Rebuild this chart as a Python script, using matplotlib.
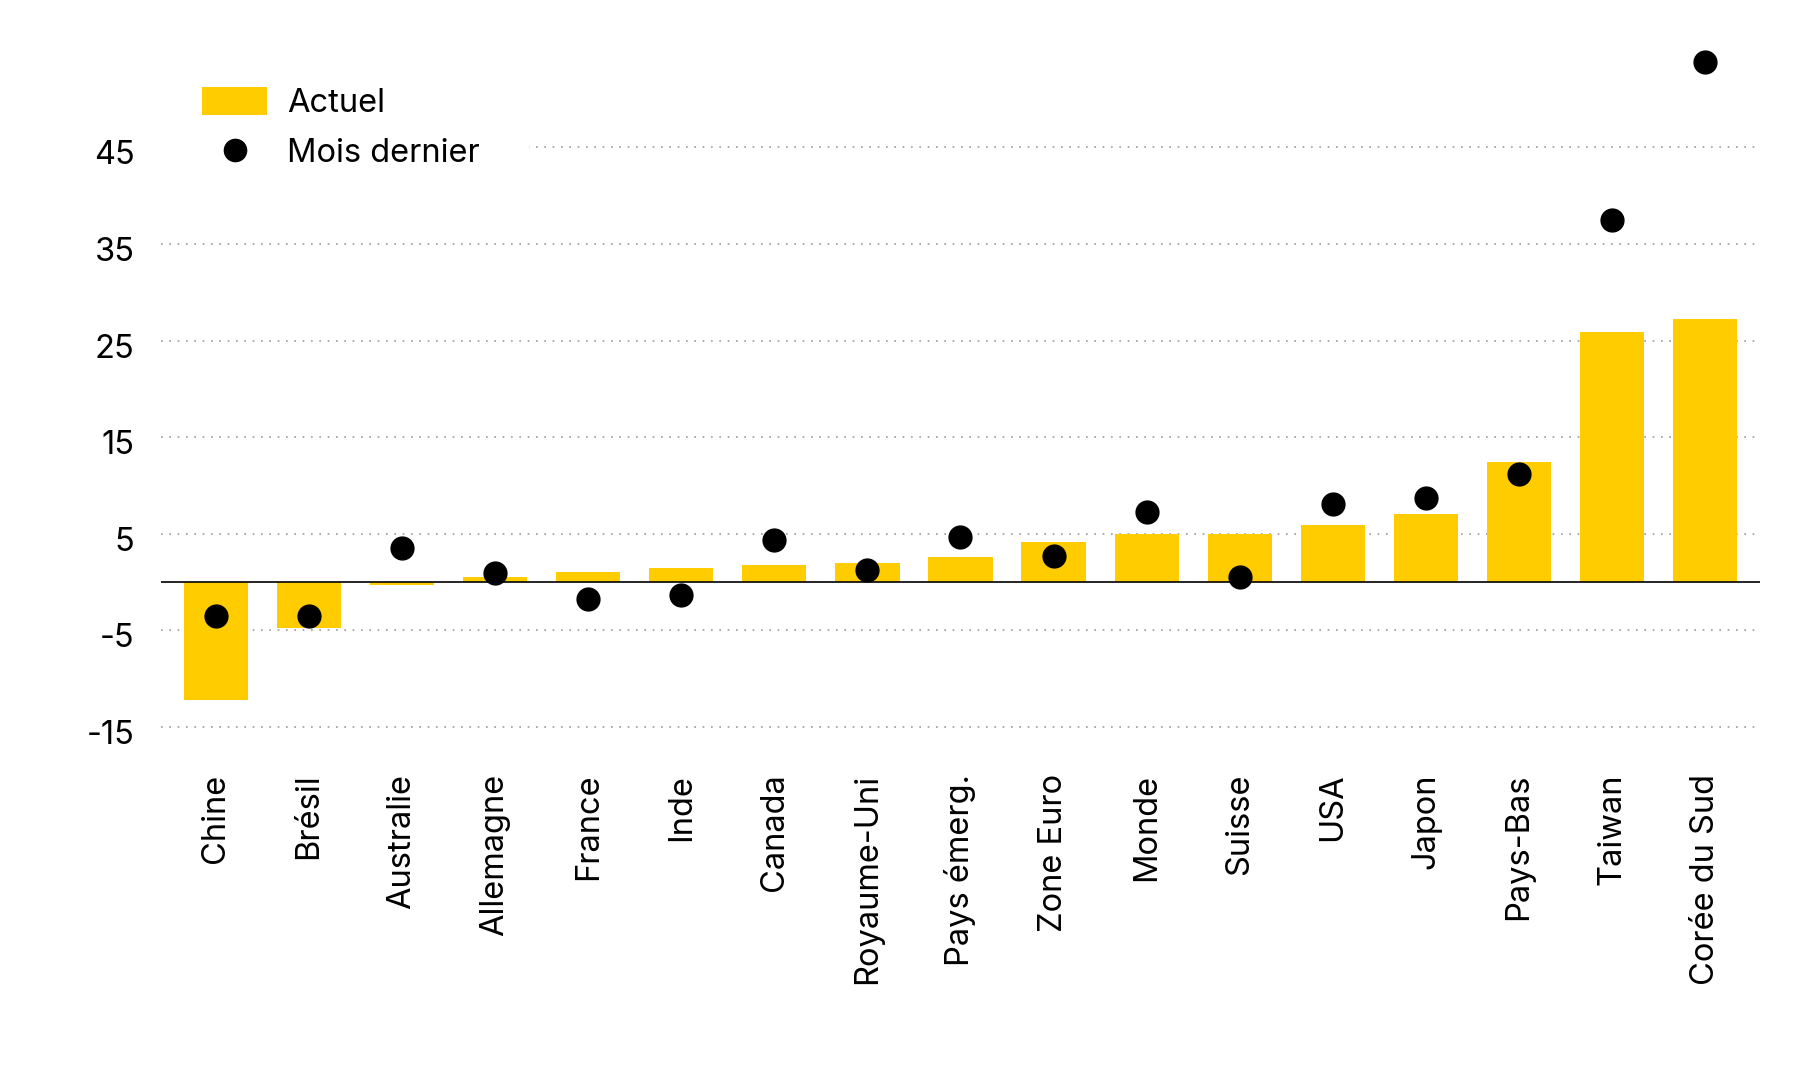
import numpy as np
import matplotlib
matplotlib.use('Agg')
import matplotlib.pyplot as plt
import matplotlib.transforms as mtransforms
from matplotlib.patches import Patch
from matplotlib.lines import Line2D

plt.rcParams['font.family'] = ['Inter', 'DejaVu Sans']

pays = ['Chine', 'Brésil', 'Australie', 'Allemagne', 'France', 'Inde', 'Canada',
        'Royaume-Uni', 'Pays émerg.', 'Zone Euro', 'Monde', 'Suisse', 'USA',
        'Japon', 'Pays-Bas', 'Taiwan', 'Corée du Sud']
actuel = [-12.3, -4.8, -0.3, 0.45, 1.0, 1.45, 1.7, 1.95, 2.55, 4.1, 4.95, 5.0,
          5.9, 7.0, 12.4, 25.9, 27.2]
mois_dernier = [-3.5, -3.55, 3.45, 0.95, -1.8, -1.4, 4.3, 1.2, 4.6, 2.7, 7.2,
                0.5, 8.1, 8.7, 11.15, 37.45, 53.85]
yticks = [45, 35, 25, 15, 5, -5, -15]

jaune = '#FFCC00'

fig = plt.figure(figsize=(18, 10.8), dpi=100)
ax = fig.add_axes([0.0894, 0.3094, 0.9778 - 0.0894, 0.9796 - 0.3094])

x = np.arange(len(pays))
ax.bar(x, actuel, width=0.69, color=jaune, zorder=2)
ax.scatter(x, mois_dernier, s=270, color='black', zorder=3)
ax.axhline(0, color='black', lw=1.2, zorder=2.5)

ax.set_xlim(-0.59, len(pays) - 1 + 0.59)
ax.set_ylim(-17, 58)
ax.set_yticks(yticks)
ax.set_yticklabels([str(v) for v in yticks])
ax.set_xticks(x)
ax.set_xticklabels(pays, rotation=90, va='top', ha='center')

ax.tick_params(axis='both', length=0, labelsize=23.5, colors='black')
ax.tick_params(axis='y', pad=19)
ax.tick_params(axis='x', pad=20)
for s in ax.spines.values():
    s.set_visible(False)
ax.grid(axis='y', linestyle=(0, (1, 4)), color='#999999', lw=1.2, zorder=1)
ax.grid(axis='x', visible=False)

# y labels sit a little under their gridline in the original
shift = mtransforms.ScaledTranslation(0, -5 / 100, fig.dpi_scale_trans)
for lab in ax.get_yticklabels():
    lab.set_transform(lab.get_transform() + shift)

handles = [Patch(facecolor=jaune, edgecolor='none'),
           Line2D([], [], marker='o', color='black', linestyle='none', markersize=16)]
leg = fig.legend(handles, ['Actuel', 'Mois dernier'], loc='upper left',
                 bbox_to_anchor=(0.085, 0.965), fontsize=23.5, frameon=True,
                 framealpha=1, edgecolor='none', facecolor='white',
                 handlelength=2.0, handleheight=0.95, handletextpad=0.6,
                 labelspacing=0.55, borderpad=1.5, borderaxespad=0)

fig.savefig('out.png', dpi=100, facecolor='white')
